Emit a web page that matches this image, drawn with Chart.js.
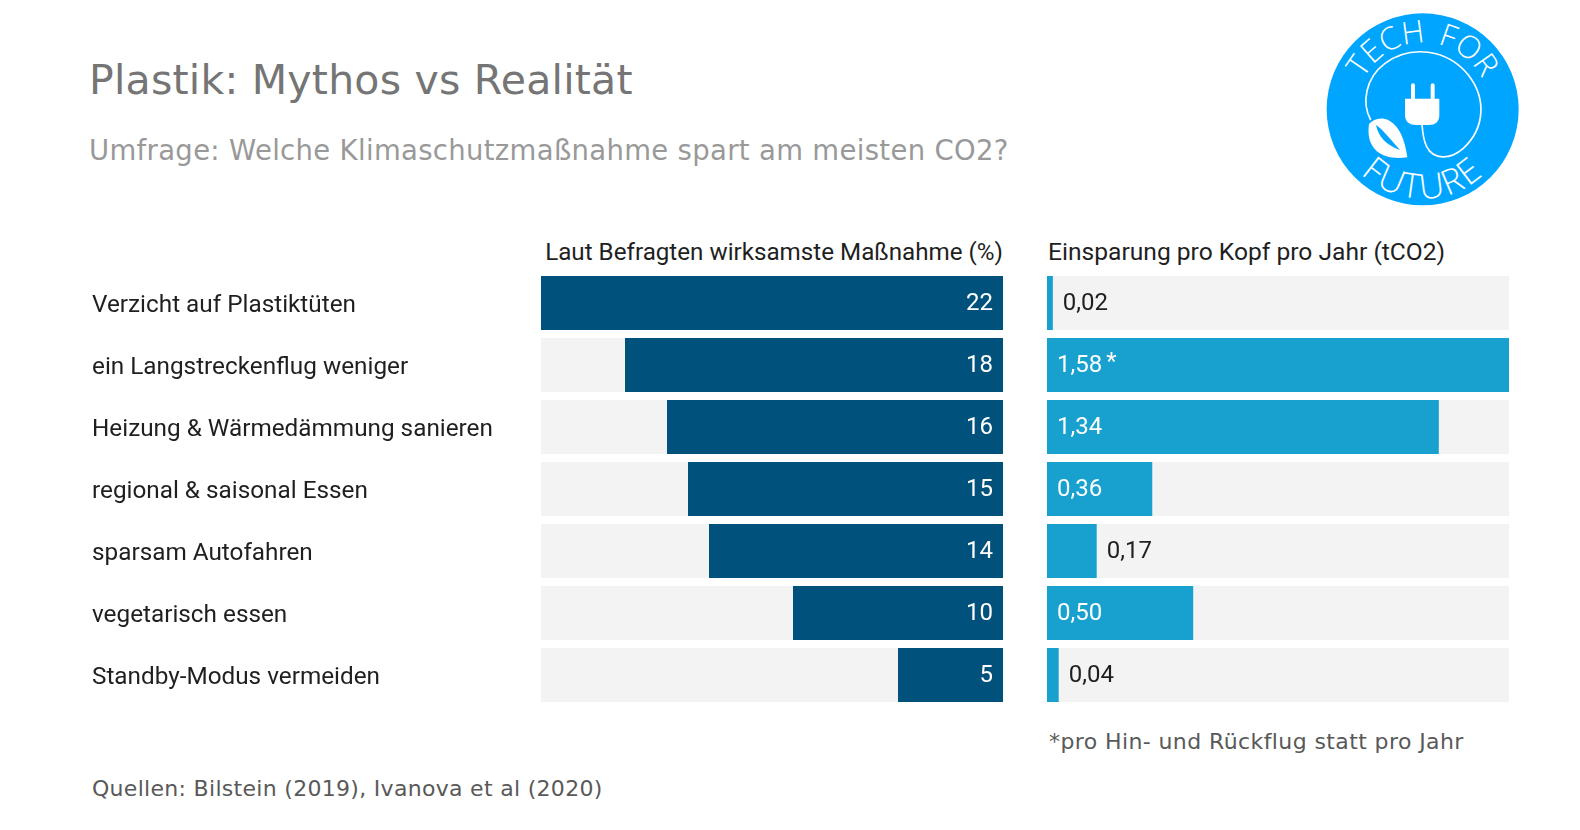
<!DOCTYPE html>
<html lang="de"><head><meta charset="utf-8">
<script src="https://cdn.jsdelivr.net/npm/chart.js@4"></script>
<style>
html,body{margin:0;padding:0;background:#fff;width:1580px;height:830px;overflow:hidden}
.t{position:absolute;white-space:nowrap;line-height:1}
canvas{position:absolute}
#wrapL,#wrapR{position:absolute}
</style></head><body>
<div class="t" style="left:89px;top:56px;font:41px 'DejaVu Sans';letter-spacing:.23px;color:#757575">Plastik: Mythos vs Realität</div>
<div class="t" style="left:89px;top:134px;font:27.5px 'DejaVu Sans';letter-spacing:.32px;color:#999">Umfrage: Welche Klimaschutzmaßnahme spart am meisten CO2?</div>
<div class="t" id="hL" style="right:577px;top:238px;font:24.2px Roboto;color:#1f1f1f">Laut Befragten wirksamste Maßnahme (%)</div>
<div class="t" id="hR" style="left:1048px;top:237px;font:24.6px Roboto;color:#1f1f1f">Einsparung pro Kopf pro Jahr (tCO2)</div>
<div class="t" style="left:1049px;top:729px;font:22px 'DejaVu Sans';letter-spacing:.4px;color:#595959">*pro Hin- und Rückflug statt pro Jahr</div>
<div class="t" style="left:92px;top:776px;font:22px 'DejaVu Sans';letter-spacing:.3px;color:#595959">Quellen: Bilstein (2019), Ivanova et al (2020)</div>
<div id="wrapL" style="left:92px;top:272px;width:911px;height:434px"><canvas id="cL"></canvas></div>
<div id="wrapR" style="left:1047px;top:272px;width:462px;height:434px"><canvas id="cR"></canvas></div>
<svg style="position:absolute;left:1300px;top:0" width="220" height="220" viewBox="0 0 660 660">
<circle cx="368" cy="328" r="288" fill="#00a5ff"/>
<defs>
<path id="arcTop" d="M 168 328 A 200 200 0 0 1 568 328"/>
<path id="arcBot" d="M 100 328 A 268 268 0 0 0 636 328"/>
</defs>
<text font-family="'Open Sans'" font-weight="300" font-size="94" fill="#fff" text-anchor="middle" word-spacing="12"><textPath href="#arcTop" startOffset="50%">TECH FOR</textPath></text>
<text font-family="'Open Sans'" font-weight="300" font-size="104" fill="#fff" text-anchor="middle" letter-spacing="6"><textPath href="#arcBot" startOffset="50%">FUTURE</textPath></text>
<path d="M212 360 C185 310 195 235 255 190 C330 135 440 145 505 225 C560 295 555 385 490 445 C450 480 400 480 380 440 C368 415 368 395 366 372" fill="none" stroke="#fff" stroke-width="5"/>
<path d="M333 296 V256 a6 6 0 0 1 12 0 V296 H392 V256 a6 6 0 0 1 12 0 V296 H418 V345 Q418 375 385 375 H350 Q315 375 315 345 V296 Z" fill="#fff"/>
<path d="M207 372 C235 340 305 345 322 472 C255 482 195 455 207 372 Z" fill="#fff"/>
<path d="M228 375 C250 390 268 415 300 450 C258 435 235 410 228 375 Z" fill="#00a5ff"/>
</svg>
<script>
const categories = ["Verzicht auf Plastiktüten","ein Langstreckenflug weniger","Heizung & Wärmedämmung sanieren","regional & saisonal Essen","sparsam Autofahren","vegetarisch essen","Standby-Modus vermeiden"];
const surveyValues = [22,18,16,15,14,10,5];
const savingValues = [0.02,1.58,1.34,0.36,0.17,0.50,0.04];
const savingSuffix = ["","*","","","","",""];
const surveyMax = 22;
const savingMax = 1.58;
const surveyTrack = categories.map(()=>surveyMax);
const savingTrack = categories.map(()=>savingMax);
const FONT = "24px Roboto";
const DARK = "#1f1f1f";

const labelPlugin = {
  id:"valueLabels",
  beforeDraw(chart){
    // nudge the axis labels onto the optical centre of the row
    const y = chart.scales.y;
    if(!y.options.display) return;
    y.getLabelItems(chart.chartArea).forEach(it=>{
      if(!it.options._nudged){ it.options.translation[1]+=3; it.options._nudged=true; }
    });
  },
  afterDatasetsDraw(chart,_,opts){
    const ctx = chart.ctx, meta = chart.getDatasetMeta(0);
    ctx.save(); ctx.font = FONT; ctx.textBaseline = "middle";
    meta.data.forEach((bar,i)=>{
      const y = bar.y + 1;
      if(opts.mode === "survey"){
        ctx.fillStyle="#fff"; ctx.textAlign="right";
        ctx.fillText(String(surveyValues[i]), chart.chartArea.right-10, y);
      } else {
        const v = savingValues[i], s = v.toFixed(2).replace(".",",");
        ctx.textAlign="left";
        const inside = v >= 0.3;
        ctx.fillStyle = inside ? "#fff" : DARK;
        const x = inside ? chart.chartArea.left+10 : bar.x+10;
        ctx.fillText(s, x, y);
        if(savingSuffix[i]){
          ctx.fillText(savingSuffix[i], x+ctx.measureText(s).width+4, y-3);
        }
      }
    });
    ctx.restore();
  }
};

function make(id, values, track, max, color, reverse, showCats, mode){
  new Chart(document.getElementById(id),{
    type:"bar",
    data:{labels:categories,datasets:[
      {data:values,backgroundColor:color,order:1,grouped:false,barPercentage:0.871,categoryPercentage:1},
      {data:track,backgroundColor:"#f3f3f3",order:2,grouped:false,barPercentage:0.871,categoryPercentage:1}
    ]},
    options:{
      indexAxis:"y",responsive:true,maintainAspectRatio:false,animation:false,
      layout:{padding:0},
      plugins:{legend:{display:false},title:{display:false},tooltip:{enabled:false},valueLabels:{mode}},
      scales:{
        x:{display:false,min:0,max,reverse},
        y:{display:showCats,grid:{display:false,drawTicks:false},border:{display:false},
           afterFit(s){ if(showCats){ s.width=449; s.paddingTop=0; s.paddingBottom=0; } },
           ticks:{crossAlign:"far",padding:0,color:DARK,font:{family:"Roboto",size:24.3},autoSkip:false}}
      }
    },
    plugins:[labelPlugin]
  });
}
make("cL",surveyValues,surveyTrack,surveyMax,"#00527c",true,true,"survey");
make("cR",savingValues,savingTrack,savingMax,"#18a0cf",false,false,"saving");
</script>
</body></html>
